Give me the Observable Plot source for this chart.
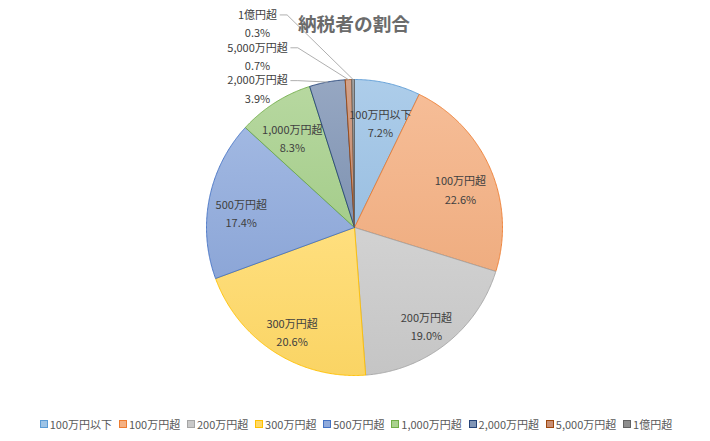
<!DOCTYPE html>
<html>
<head>
<meta charset="utf-8">
<script src="https://cdn.jsdelivr.net/npm/d3@7"></script>
<script src="https://cdn.jsdelivr.net/npm/@observablehq/plot@0.6"></script>
<style>
  html, body { margin: 0; padding: 0; background: #fff; }
  #wrap { position: relative; width: 710px; height: 441px; overflow: hidden; }
  #title { position: absolute; left: 0; top: 10px; width: 708px; text-align: center;
           font: bold 18.7px 'Noto Sans CJK JP', sans-serif; color: #6B6B6B; line-height: 26px; }
  #legend { position: absolute; left: 0; top: 416px; width: 712px; display: flex; justify-content: center;
            font: 11px 'Noto Sans CJK JP', sans-serif; color: #595959; white-space: nowrap; }
  #legend .item { display: flex; align-items: center; margin: 0 3.4px; }
  #legend .sw { width: 6px; height: 6px; margin-right: 2px; border-width: 1px; border-style: solid; }
</style>
</head>
<body>
<div id="wrap"></div>
<script>
// ---- data ----
const categories = ["100万円以下","100万円超","200万円超","300万円超","500万円超","1,000万円超","2,000万円超","5,000万円超","1億円超"];
const shares = [7.2, 22.6, 19.0, 20.6, 17.4, 8.3, 3.9, 0.7, 0.3];
const fillColors = ["#9DC3E6","#F4B183","#C9C9C9","#FFD966","#8FAADC","#A9D18E","#8296B6","#C98F73","#8E8E8E"];
const strokeColors = ["#5B9BD5","#ED7D31","#A5A5A5","#FFC000","#4472C4","#70AD47","#264478","#9E480E","#636363"];
const titleText = "納税者の割合";

// ---- layout ----
const W = 710, H = 441, CX = 354, CY = 227, R = 148;
const fontFam = "'Noto Sans CJK JP', sans-serif";

const arcs = d3.pie().sort(null).value(d => d)(shares);

// slice polygons (unit circle coordinates, angle 0 at 12 o'clock, clockwise)
const slices = arcs.map((a, i) => {
  const pts = [{u: 0, v: 0}];
  const steps = Math.max(2, Math.ceil((a.endAngle - a.startAngle) / (Math.PI / 360)));
  for (let k = 0; k <= steps; k++) {
    const t = a.startAngle + (a.endAngle - a.startAngle) * k / steps;
    pts.push({u: Math.sin(t), v: Math.cos(t)});
  }
  pts.push({u: 0, v: 0});
  return pts;
});

const fmt = d => d.toFixed(1) + "%";

// measure text widths
const ctx = document.createElement("canvas").getContext("2d");
ctx.font = "11px " + fontFam;
const tw = s => ctx.measureText(s).width;

const insideLabels = [], outsideLabels = [], leaders = [];
let k = 0;
arcs.forEach((a, i) => {
  const m = (a.startAngle + a.endAngle) / 2;
  const text = categories[i] + "\n" + fmt(shares[i]);
  if (shares[i] >= 5) {
    insideLabels.push({u: 0.78 * Math.sin(m), v: 0.78 * Math.cos(m), text});
  } else {
    const lu = -0.655, lv = 0.945 + 0.222 * k;
    outsideLabels.push({u: lu, v: lv, text});
    const w = Math.max(tw(categories[i]), tw(fmt(shares[i])));
    const su = lu + (w / 2 + 3) / R, sv = lv + 7 / R;
    leaders.push([
      {u: su, v: sv},
      {u: su + 7 / R, v: sv},
      {u: Math.sin(m), v: Math.cos(m)}
    ]);
    k++;
  }
});

const marks = [];
slices.forEach((pts, i) => {
  marks.push(Plot.line(pts, {x: "u", y: "v", fill: `url(#grad${i})`, stroke: strokeColors[i], strokeWidth: 0.9, strokeLinejoin: "round"}));
});
leaders.forEach(pts => {
  marks.push(Plot.line(pts, {x: "u", y: "v", stroke: "#A6A6A6", strokeWidth: 0.9}));
});
marks.push(Plot.text(insideLabels, {x: "u", y: "v", dy: 7, text: "text", fill: "#404040", fontSize: 11, lineHeight: 1.65}));
marks.push(Plot.text(outsideLabels, {x: "u", y: "v", text: "text", fill: "#404040", fontSize: 11, lineHeight: 1.65}));

const chart = Plot.plot({
  width: W, height: H,
  marginTop: 0, marginRight: 0, marginBottom: 0, marginLeft: 0,
  x: {domain: [-CX / R, (W - CX) / R], range: [0, W], axis: null},
  y: {domain: [-(H - CY) / R, CY / R], range: [H, 0], axis: null},
  style: {fontFamily: fontFam, fontSize: "11px", background: "white"},
  marks
});

// gradient defs
const defs = d3.create("svg:defs");
fillColors.forEach((c, i) => {
  const g = defs.append("linearGradient").attr("id", `grad${i}`)
    .attr("x1", 0).attr("y1", 0).attr("x2", 0).attr("y2", 1);
  g.append("stop").attr("offset", "0%").attr("stop-color", d3.interpolateRgb(c, "#ffffff")(0.16));
  g.append("stop").attr("offset", "100%").attr("stop-color", d3.color(c).darker(0.06).formatHex());
});
chart.insertBefore(defs.node(), chart.firstChild);

const wrap = document.getElementById("wrap");
wrap.appendChild(chart);

// title
const title = document.createElement("div");
title.id = "title";
title.textContent = titleText;
wrap.appendChild(title);

// legend
const legend = document.createElement("div");
legend.id = "legend";
categories.forEach((c, i) => {
  const item = document.createElement("div");
  item.className = "item";
  const sw = document.createElement("span");
  sw.className = "sw";
  sw.style.background = fillColors[i];
  sw.style.borderColor = strokeColors[i];
  item.appendChild(sw);
  item.appendChild(document.createTextNode(c));
  legend.appendChild(item);
});
wrap.appendChild(legend);
</script>
</body>
</html>
